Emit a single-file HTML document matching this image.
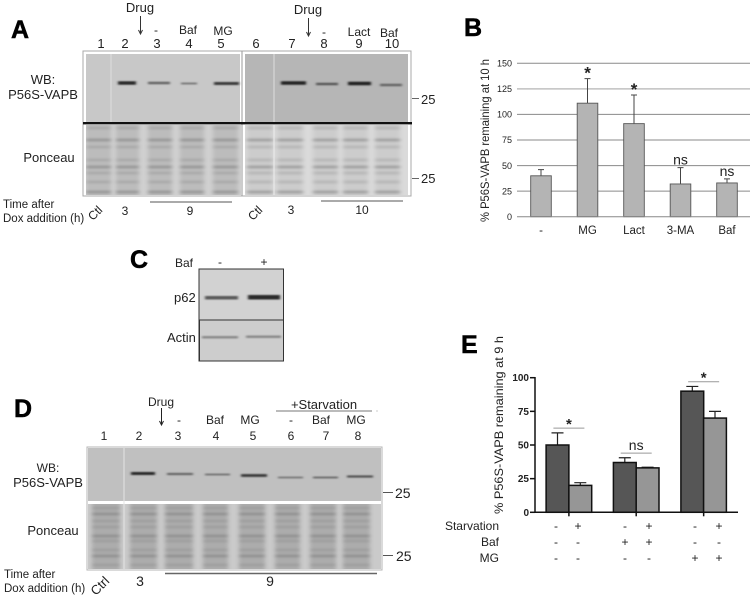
<!DOCTYPE html>
<html>
<head>
<meta charset="utf-8">
<title>Figure panels A-E</title>
<style>
html,body{margin:0;padding:0;background:#fff;width:754px;height:598px;overflow:hidden}
svg{display:block}
text{font-family:"Liberation Sans",sans-serif;fill:#222}
.l{font-size:13px}
.s{font-size:12px}
.p{font-size:25px;font-weight:bold;fill:#000;stroke:#000;stroke-width:.5px}
.m{text-anchor:middle}
.e{text-anchor:end}
</style>
</head>
<body>
<svg id="fig" xmlns="http://www.w3.org/2000/svg" width="754" height="598" viewBox="0 0 754 598">
<defs>
<filter id="b1" x="-20%" y="-100%" width="140%" height="300%"><feGaussianBlur stdDeviation="1.3 0.9"/></filter>
<filter id="b2" x="-20%" y="-10%" width="140%" height="120%"><feGaussianBlur stdDeviation="2.2 1.1"/></filter>
<clipPath id="cA1"><rect x="86" y="125" width="155" height="70"/></clipPath>
<clipPath id="cA2"><rect x="245" y="125" width="163" height="70"/></clipPath>
<clipPath id="cD"><rect x="88" y="504" width="293" height="65"/></clipPath>
</defs>
<rect width="754" height="598" fill="#fff"/>

<!-- Panel A -->
<g>
<text class="p" x="11" y="38">A</text>
<text class="l m" x="140" y="12">Drug</text>
<path d="M140.5 16V33M138.5 30l2 4 2-4" stroke="#333" fill="none"/>
<text class="l m" x="308" y="14">Drug</text>
<path d="M308.5 18V35M306.5 32l2 4 2-4" stroke="#333" fill="none"/>
<g>
<text class="s m" x="156" y="34">-</text><text class="s m" x="188" y="34">Baf</text><text class="s m" x="223" y="35">MG</text>
<text class="s m" x="324" y="36">-</text><text class="s m" x="359" y="36">Lact</text><text class="s m" x="389" y="37">Baf</text>
</g>
<g>
<text class="l m" x="101" y="48">1</text><text class="l m" x="125" y="48">2</text><text class="l m" x="157" y="48">3</text><text class="l m" x="189" y="48">4</text><text class="l m" x="221" y="48">5</text>
<text class="l m" x="256" y="48">6</text><text class="l m" x="292" y="48">7</text><text class="l m" x="324" y="48">8</text><text class="l m" x="359" y="48">9</text><text class="l m" x="392" y="48">10</text>
</g>
<rect x="83" y="51" width="328" height="145" fill="#fff" stroke="#a8a8a8"/>
<rect x="86" y="54" width="154" height="68" fill="#c8c8c8"/>
<rect x="245" y="54" width="163" height="68" fill="#b6b6b6"/>
<path d="M111 54V122M274 54V122" stroke="#dedede"/>
<path d="M242 51V196" stroke="#9a9a9a"/>
<rect x="83" y="122" width="329" height="2.4" fill="#111"/>
<g id="bandsA" filter="url(#b1)"></g>
<rect x="86" y="125" width="155" height="70" fill="#d0d0d0"/>
<rect x="245" y="125" width="163" height="70" fill="#dadada"/>
<g id="ponA1" clip-path="url(#cA1)"></g>
<g id="ponA2" clip-path="url(#cA2)"></g>
<path d="M274 125V195" stroke="#eee"/>
<text class="l m" x="43" y="84">WB:</text>
<text class="m" font-size="13" x="43" y="99">P56S-VAPB</text>
<text class="m" font-size="13" x="49" y="162">Ponceau</text>
<path d="M412 98.5h7M412 178.5h7" stroke="#666"/>
<text class="l" x="421" y="104">25</text>
<text class="l" x="421" y="183">25</text>
<text font-size="11.5" x="3" y="208">Time after</text>
<text font-size="11.5" x="3" y="222">Dox addition (h)</text>
<text class="s m" transform="translate(98 216) rotate(-45)">Ctl</text>
<text class="s m" x="125" y="215">3</text>
<path d="M150 202H232" stroke="#555"/>
<text class="s m" x="190" y="215">9</text>
<text class="s m" transform="translate(258 216) rotate(-45)">Ctl</text>
<text class="s m" x="291" y="214">3</text>
<path d="M321 201H403" stroke="#555"/>
<text class="s m" x="362" y="214">10</text>
</g>

<!-- Panel C -->
<g>
<text class="p" x="130" y="268">C</text>
<text class="s" x="175" y="267">Baf</text>
<text class="s m" x="220" y="266">-</text>
<text class="s m" x="264" y="266">+</text>
<rect x="199" y="269" width="84.500" height="92" fill="#d2d2d2" stroke="#333"/>
<rect x="199.500" y="320" width="84" height="41" fill="#cdcdcd" stroke="#333"/>
<g filter="url(#b1)">
<rect x="205" y="296" width="33" height="3.500" fill="#5a5a5a"/>
<rect x="248" y="295" width="32" height="4.500" fill="#2a2a2a"/>
<rect x="202" y="336" width="36" height="2.500" fill="#8a8a8a"/>
<rect x="246" y="335.500" width="35" height="2.500" fill="#8a8a8a"/>
</g>
<text class="l" x="174" y="302">p62</text>
<text class="l" x="167" y="342">Actin</text>
</g>

<!-- Panel D -->
<g>
<text class="p" x="14" y="417">D</text>
<text class="s m" x="161" y="406">Drug</text>
<path d="M161.500 408V424M159.500 421l2 4 2-4" stroke="#222" fill="none"/>
<text class="l m" x="324" y="409">+Starvation</text>
<path d="M276 411H372" stroke="#777"/>
<path d="M376.500 411h1" stroke="#999"/>
<g>
<text class="s m" x="179" y="424">-</text><text class="s m" x="215" y="424">Baf</text><text class="s m" x="250" y="424">MG</text>
<text class="s m" x="291" y="424">-</text><text class="s m" x="321" y="424">Baf</text><text class="s m" x="356" y="424">MG</text>
</g>
<g>
<text class="s m" x="104" y="440">1</text><text class="s m" x="139" y="440">2</text><text class="s m" x="178" y="440">3</text><text class="s m" x="216" y="440">4</text>
<text class="s m" x="253" y="440">5</text><text class="s m" x="291" y="440">6</text><text class="s m" x="326" y="440">7</text><text class="s m" x="358" y="440">8</text>
</g>
<rect x="87" y="447" width="295" height="123" fill="#fff" stroke="#b5b5b5"/>
<rect x="88" y="448" width="293" height="53" fill="#c0c0c0"/>
<g id="bandsD" filter="url(#b1)"></g>
<rect x="88" y="504" width="293" height="65" fill="#cacaca"/>
<g id="ponD" clip-path="url(#cD)"></g>
<path d="M124 448V569" stroke="#e4e4e4"/>
<text class="s m" x="48" y="472">WB:</text>
<text class="m" font-size="13" x="48" y="487">P56S-VAPB</text>
<text class="m" font-size="13" x="53" y="535">Ponceau</text>
<path d="M383 492.500h10M383 555.500h10" stroke="#555"/>
<text font-size="14" x="395" y="498">25</text>
<text font-size="14" x="396" y="561">25</text>
<text font-size="11.500" x="4" y="578">Time after</text>
<text font-size="11.500" x="4" y="592">Dox addition (h)</text>
<text font-size="13" class="m" transform="translate(103 589) rotate(-45)">Ctrl</text>
<text font-size="14" class="m" x="140" y="586">3</text>
<path d="M165 573.500H377" stroke="#666" stroke-width="1.500"/>
<text font-size="14" class="m" x="270" y="586">9</text>
</g>

<!-- Panel B -->
<g id="chartB">
<text class="p" x="464" y="36">B</text>
<text font-size="12" class="m" transform="translate(489 140.500) rotate(-90)" textLength="163" lengthAdjust="spacingAndGlyphs">% P56S-VAPB remaining at 10 h</text>
</g>

<!-- Panel E -->
<g id="chartE">
<text class="p" x="461" y="353">E</text>
<text font-size="12" class="m" transform="translate(503 425) rotate(-90)" textLength="178" lengthAdjust="spacingAndGlyphs">% P56S-VAPB remaining at 9 h</text>
<text class="s e" x="499" y="530">Starvation</text>
<text class="s e" x="499" y="546">Baf</text>
<text class="s e" x="499" y="562">MG</text>
</g>
</svg>

<script>
// Chart B data
var bCategories = ['-', 'MG', 'Lact', '3-MA', 'Baf'];
var bValues = [40, 111, 91, 32, 33];
var bErrors = [46, 135, 119, 48, 37];
var bNotes = ['', '*', '*', 'ns', 'ns'];
var bTicks = [0, 25, 50, 75, 100, 125, 150];

// Chart E data
var eValues = [50, 20, 37, 33, 90, 70];
var eErrors = [59, 22, 40.5, 33.5, 93.5, 75];
var eTicks = [0, 25, 50, 75, 100];
var eStarvation = ['-', '+', '-', '+', '-', '+'];
var eBaf = ['-', '-', '+', '+', '-', '-'];
var eMG = ['-', '-', '-', '-', '+', '+'];
var eNotes = ['*', 'ns', '*'];
var eNotePairs = [[0, 1], [2, 3], [4, 5]];

var NS = 'http://www.w3.org/2000/svg';
function mk(parent, tag, attrs, txt) {
  var n = document.createElementNS(NS, tag);
  for (var k in attrs) n.setAttribute(k, attrs[k]);
  if (txt !== undefined) n.textContent = txt;
  parent.appendChild(n);
  return n;
}

// ---- Chart B ----
(function () {
  var g = document.getElementById('chartB');
  var y = function (v) { return 216.7 - v * (216.7 - 63.3) / 150; };
  var x = function (i) { return 541 + i * 46.5; };
  var halfW = 10.3;
  bTicks.forEach(function (t) {
    if (t > 0) {
      var gl = mk(g, 'line', { x1: 517, x2: 750, y1: y(t), y2: y(t), stroke: t === 125 ? '#c0c0c0' : '#8a8a8a', 'stroke-width': t === 125 ? 1.4 : 1 });
      
      
    }
    var tl = mk(g, 'text', { x: 512, y: y(t) + 3.2, 'font-size': 9, 'text-anchor': 'end' }, String(t));
    
    
  });
  bCategories.forEach(function (c, i) {
    var err = mk(g, 'path', { d: 'M' + x(i) + ' ' + y(bValues[i]) + 'V' + y(bErrors[i]) + 'M' + (x(i) - 3) + ' ' + y(bErrors[i]) + 'H' + (x(i) + 3), stroke: '#444', fill: 'none' });
    
    
    var r = mk(g, 'rect', { x: x(i) - halfW, y: y(bValues[i]), width: 2 * halfW, height: y(0) - y(bValues[i]), fill: '#b4b4b4', stroke: '#555', 'stroke-width': 0.9 });
    
    
    var lab = mk(g, 'text', { x: x(i), y: 234, 'font-size': 11.5, 'text-anchor': 'middle' }, c);
    
    
    if (bNotes[i]) {
      var star = bNotes[i] === '*';
      var n = mk(g, 'text', { x: x(i), y: y(bErrors[i]) - (star ? 0 : 3), 'font-size': star ? 17 : 14, 'text-anchor': 'middle', 'font-weight': star ? 'bold' : 'normal' }, bNotes[i]);
      
      
    }
  });
  var ax = mk(g, 'line', { x1: 517, x2: 750, y1: y(0), y2: y(0), stroke: '#888' });
  
  
})();

// ---- Chart E ----
(function () {
  var g = document.getElementById('chartE');
  var y = function (v) { return 512.3 - v * (512.3 - 377.7) / 100; };
  var centers = [557.5, 580.3, 624.8, 647.6, 692.3, 715];
  var barW = 22.8;
  var signX = [556, 578, 625, 649, 695, 719];
  eValues.forEach(function (v, i) {
    var err = mk(g, 'path', { d: 'M' + centers[i] + ' ' + y(v) + 'V' + y(eErrors[i]) + 'M' + (centers[i] - 6) + ' ' + y(eErrors[i]) + 'H' + (centers[i] + 6), stroke: '#222', 'stroke-width': 1.2, fill: 'none' });
    
    
    var r = mk(g, 'rect', { x: centers[i] - barW / 2, y: y(v), width: barW, height: y(0) - y(v), fill: i % 2 ? '#969696' : '#565656', stroke: '#111', 'stroke-width': 1.5 });
    
    
    [eStarvation, eBaf, eMG].forEach(function (row, k) {
      var s = mk(g, 'text', { x: signX[i], y: 530 + k * 16, 'font-size': 12, 'text-anchor': 'middle' }, row[i]);
      
      
    });
  });
  eTicks.forEach(function (t) {
    var tk = mk(g, 'line', { x1: 530, x2: 535, y1: y(t), y2: y(t), stroke: '#111', 'stroke-width': 1.5 });
    
    
    var tl = mk(g, 'text', { x: 529, y: y(t) + 3.5, 'font-size': 10, 'font-weight': 'bold', 'text-anchor': 'end' }, String(t));
    
    
  });
  var yax = mk(g, 'line', { x1: 535, x2: 535, y1: y(100) - 0.7, y2: y(0) + 0.7, stroke: '#111', 'stroke-width': 1.5 });
  
  
  var xax = mk(g, 'line', { x1: 535, x2: 738, y1: y(0), y2: y(0), stroke: '#111', 'stroke-width': 1.5 });
  
  
  eNotePairs.forEach(function (pair, k) {
    var cx = (centers[pair[0]] + centers[pair[1]]) / 2;
    var top = Math.max(eErrors[pair[0]], eErrors[pair[1]]);
    var ly = y(top) - 4.7;
    var tk = mk(g, 'line', { x1: cx, x2: cx, y1: y(0), y2: y(0) + 4, stroke: '#111', 'stroke-width': 1.5 });
    
    
    var ln = mk(g, 'line', { x1: cx - 15.5, x2: cx + 15.5, y1: ly, y2: ly, stroke: '#999' });
    
    
    var star = eNotes[k] === '*';
    var n = mk(g, 'text', { x: cx, y: ly + (star ? 1 : -3), 'font-size': star ? 15 : 14, 'font-weight': star ? 'bold' : 'normal', 'text-anchor': 'middle' }, eNotes[k]);
    
    
  });
})();

// ---- Blot textures ----
var bandsA = [[118,136,83,3.5,'#2a2a2a'],[148,170,83,2.5,'#666'],[181,197,83.5,2,'#7a7a7a'],[214,239,83.5,3,'#3a3a3a'],
              [281,306,83,3.5,'#222'],[316,338,84,2.5,'#5a5a5a'],[348,371,83.500,3.5,'#222'],[380,402,85,2.5,'#666']];
var bandsD = [[131,155,473.500,3,'#2c2c2c'],[167,193,474,2.2,'#666'],[205,230,474.500,2,'#777'],[241,267,475.500,2.800,'#3a3a3a'],
              [278,303,477.500,1.800,'#777'],[313,338,477.500,2,'#707070'],[347,373,476.500,2.300,'#555']];
var lanesA1 = [[86,111],[116,139],[148,172],[180,204],[213,238]];
var lanesA2 = [[247,273],[277,303],[313,338],[343,368],[375,400]];
var lanesD = [[92,120],[130,157],[165,193],[203,228],[239,265],[275,300],[310,336],[343,370]];
var rowsA = [128,140,147,160,167,173,182,192];
var rowsD = [508,514,521,527,536,541,550,556,565];

function drawBands(id, list) {
  var g = document.getElementById(id);
  list.forEach(function (b) {
    var r = mk(g, 'rect', { x: b[0], y: b[2] - b[3] / 2, width: b[1] - b[0], height: b[3], fill: b[4] });
    
    
  });
}
function drawPonceau(id, lanes, rows, base, band, dark) {
  var g = document.getElementById(id);
  lanes.forEach(function (l) {
    var inner = mk(g, 'g', { filter: 'url(#b2)' });
    
    
    mk(inner, 'rect', { x: l[0], y: rows[0] - 8, width: l[1] - l[0], height: rows[rows.length - 1] - rows[0] + 16, fill: base });
    rows.forEach(function (ry, i) {
      mk(inner, 'rect', { x: l[0], y: ry - 1.5, width: l[1] - l[0], height: 3, fill: i % 3 === 1 ? dark : band });
    });
  });
}
drawBands('bandsA', bandsA);
drawBands('bandsD', bandsD);
drawPonceau('ponA1', lanesA1, rowsA, '#bcbcbc', '#aaaaaa', '#989898');
drawPonceau('ponA2', lanesA2, rowsA, '#cccccc', '#b8b8b8', '#a0a0a0');
drawPonceau('ponD', lanesD, rowsD, '#acacac', '#9f9f9f', '#929292');
</script>
</body>
</html>
